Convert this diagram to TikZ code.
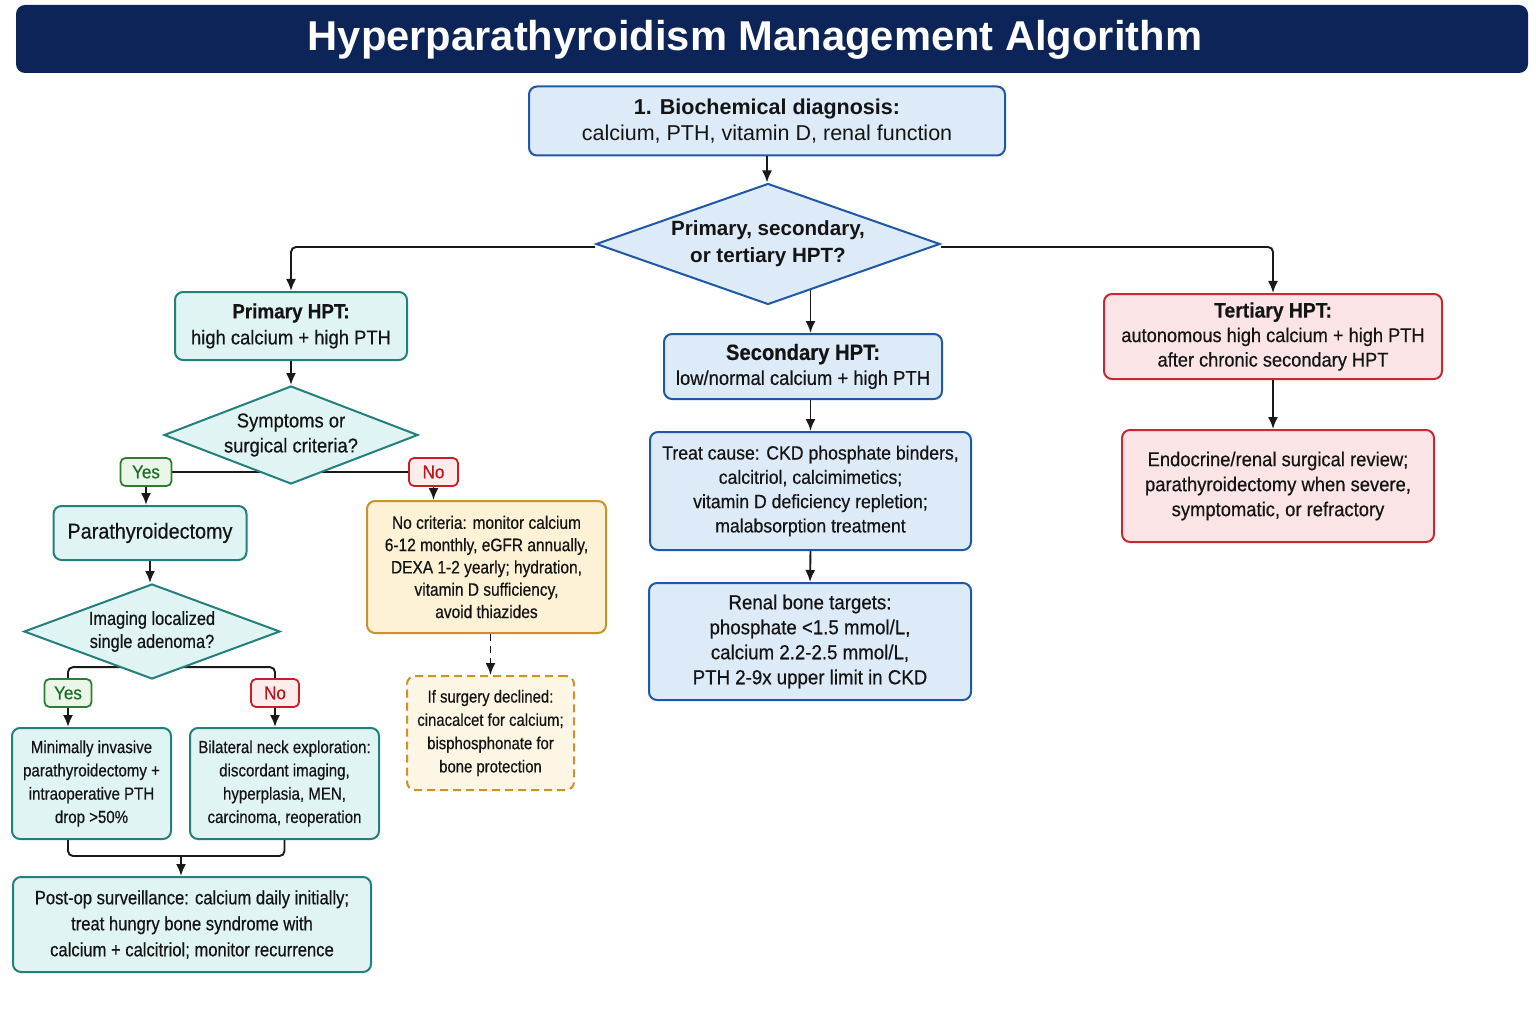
\documentclass[tikz,border=0pt]{standalone}
\usepackage{fontspec}
\setmainfont{Liberation Sans}
\newfontfamily\fn{Liberation Sans}[FakeStretch=0.92,FakeBold=0.5]
\newfontfamily\fc{Liberation Sans}[FakeStretch=0.86,FakeBold=0.5]
\usetikzlibrary{shapes.geometric,arrows.meta,calc,backgrounds}
\newcommand\setfs[2]{\fontsize{#1}{#2}\selectfont}
\definecolor{navy}{RGB}{12,36,87}
\definecolor{bluD}{RGB}{31,88,166}
\definecolor{bluF}{RGB}{221,235,248}
\definecolor{tealD}{RGB}{36,128,122}
\definecolor{tealF}{RGB}{224,244,244}
\definecolor{redD}{RGB}{200,40,50}
\definecolor{redF}{RGB}{251,228,230}
\definecolor{oraD}{RGB}{201,146,43}
\definecolor{oraF}{RGB}{253,242,214}
\definecolor{oraF2}{RGB}{254,246,228}
\definecolor{yesD}{RGB}{46,125,50}
\definecolor{yesF}{RGB}{234,246,232}
\definecolor{yesT}{RGB}{30,110,40}
\definecolor{noD}{RGB}{200,30,40}
\definecolor{noF}{RGB}{253,236,236}
\definecolor{noT}{RGB}{190,20,30}
\definecolor{arr}{RGB}{25,25,25}
\definecolor{ink}{RGB}{20,20,20}
\begin{document}
\begin{tikzpicture}[x=1pt,y=-1pt,
 box/.style={draw, rounded corners=8pt, line width=2pt, align=center, inner sep=0pt, text=ink},
 bb/.style={box, draw=bluD, fill=bluF},
 tb/.style={box, draw=tealD, fill=tealF},
 rb/.style={box, draw=redD, fill=redF},
 ob/.style={box, draw=oraD, fill=oraF},
 diam/.style={diamond, draw, line width=2pt, align=center, inner sep=0pt, text=ink},
 conn/.style={draw=arr, line width=1.9pt, -{Latex[length=12pt,width=10pt]}},
 plain/.style={draw=arr, line width=1.9pt, rounded corners=5pt},
 yeslab/.style={draw=yesD, fill=yesF, text=yesT, rounded corners=5pt, line width=1.8pt, minimum height=28pt, inner sep=0pt, font={\fn\setfs{18.5}{22}}},
 nolab/.style={draw=noD, fill=noF, text=noT, rounded corners=5pt, line width=1.8pt, minimum height=28pt, inner sep=0pt, font={\fn\setfs{18.5}{22}}}
]
\useasboundingbox (0,0) rectangle (1536,1024);
\begin{scope}[on background layer]
\fill[white] (0,0) rectangle (1536,1024);
\end{scope}
% title bar
\fill[navy, rounded corners=9pt] (16,5) rectangle (1528,73);
\node[text=white, font={\bfseries\setfs{41.7}{48}}] (title) at (755,40) {Hyperparathyroidism Management Algorithm};

% top
\node[bb, minimum width=476pt, minimum height=69pt, font={\setfs{21.5}{26}}] (b1) at (767,121) {{\bfseries 1. Biochemical diagnosis:}\\calcium, PTH, vitamin D, renal function};
\node[diam, draw=bluD, fill=bluF, aspect=2.84, minimum width=344pt, minimum height=121pt, font={\bfseries\setfs{20.6}{27}}] (d1) at (768,244) {Primary, secondary,\\or tertiary HPT?};

% three branches
\node[tb, minimum width=232pt, minimum height=68pt, font={\fn\setfs{20}{26}}] (prim) at (291,326) {{\bfseries\setfs{20.5}{26}Primary HPT:}\\high calcium + high PTH};
\node[bb, minimum width=278pt, minimum height=65pt, font={\fn\setfs{20}{25}}] (sec) at (803,366.5) {{\bfseries\setfs{22}{25}Secondary HPT:}\\low/normal calcium + high PTH};
\node[rb, minimum width=338pt, minimum height=85pt, font={\fn\setfs{19.8}{24.5}}] (ter) at (1273,336.5) {{\bfseries\setfs{21}{24.5}Tertiary HPT:}\\autonomous high calcium + high PTH\\after chronic secondary HPT};

% primary branch
\node[diam, draw=tealD, fill=tealF, aspect=2.59, minimum width=254pt, minimum height=98pt, font={\fn\setfs{20}{25}}] (d2) at (291,435) {Symptoms or\\surgical criteria?};
\node[yeslab, minimum width=51pt] (yes1) at (146,472) {Yes};
\node[nolab, minimum width=49pt] (no1) at (433.5,472) {No};
\node[tb, minimum width=193pt, minimum height=54pt, font={\fn\setfs{21.5}{26}}] (ptx) at (150,533) {Parathyroidectomy};
\node[diam, draw=tealD, fill=tealF, aspect=2.69, minimum width=256pt, minimum height=95pt, font={\fc\setfs{19}{23}}] (d3) at (152,631.5) {Imaging localized\\single adenoma?};
\node[yeslab, minimum width=47pt] (yes2) at (68,693) {Yes};
\node[nolab, minimum width=48pt] (no2) at (275,693) {No};
\node[tb, minimum width=159pt, minimum height=111pt, font={\fc\setfs{17.5}{23.3}}] (mini) at (91.5,783.5) {Minimally invasive\\parathyroidectomy +\\intraoperative PTH\\drop >50\%};
\node[tb, minimum width=189pt, minimum height=111pt, font={\fc\setfs{17.5}{23.3}}] (bil) at (284.5,783.5) {Bilateral neck exploration:\\discordant imaging,\\hyperplasia, MEN,\\carcinoma, reoperation};
\node[tb, minimum width=358pt, minimum height=95pt, font={\fc\setfs{19.3}{26}}] (post) at (192,924.5) {Post-op surveillance: calcium daily initially;\\treat hungry bone syndrome with\\calcium + calcitriol; monitor recurrence};
\node[ob, minimum width=239pt, minimum height=132pt, font={\fc\setfs{18}{22.3}}] (nocrit) at (486.5,567) {No criteria: monitor calcium\\6-12 monthly, eGFR annually,\\DEXA 1-2 yearly; hydration,\\vitamin D sufficiency,\\avoid thiazides};
\node[ob, fill=oraF2, dash pattern=on 8pt off 5pt, minimum width=167pt, minimum height=114pt, font={\fc\setfs{17.3}{23.3}}] (surg) at (490.5,733) {If surgery declined:\\cinacalcet for calcium;\\bisphosphonate for\\bone protection};

% secondary branch
\node[bb, minimum width=321pt, minimum height=118pt, font={\fn\setfs{19.2}{24.3}}] (treat) at (810.5,491) {Treat cause: CKD phosphate binders,\\calcitriol, calcimimetics;\\vitamin D deficiency repletion;\\malabsorption treatment};
\node[bb, minimum width=322pt, minimum height=117pt, font={\fn\setfs{20.3}{25}}] (renal) at (810,641.5) {Renal bone targets:\\phosphate <1.5 mmol/L,\\calcium 2.2-2.5 mmol/L,\\PTH 2-9x upper limit in CKD};

% tertiary branch
\node[rb, minimum width=312pt, minimum height=112pt, font={\fn\setfs{20}{25}}] (endo) at (1278,486) {Endocrine/renal surgical review;\\parathyroidectomy when severe,\\symptomatic, or refractory};

% connectors behind shapes
\begin{scope}[on background layer]
\draw[conn, rounded corners=5pt] ($(d1.west)+(0,3)$) -| (prim.north);
\draw[conn, rounded corners=5pt] ($(d1.east)+(0,3)$) -| (ter.north);
\draw[conn] (d1.center -| treat.north) -- (treat.north |- sec.north);
\draw[plain] (yes1.east) -- (no1.west);
\draw[plain] (yes2.north) -- ++(0,-11) -| (no2.north);
\end{scope}

% connectors
\draw[conn] (b1.south) -- (b1.south |- d1.north);
\draw[conn] (prim.south) -- (d2.north);
\draw[conn] (yes1.south) -- (yes1.south |- ptx.north);
\draw[conn] (no1.south) -- (no1.south |- nocrit.north);
\draw[conn] (ptx.south) -- (ptx.south |- d3.north);
\draw[conn] (yes2.south) -- (yes2.south |- mini.north);
\draw[conn] (no2.south) -- (no2.south |- bil.north);
\coordinate (m) at (181,856);
\draw[plain] (mini.south -| yes2.south) |- (m) -| (bil.south);
\draw[conn] (m) -- (m |- post.north);
\draw[conn, dash pattern=on 7pt off 5pt] (surg.north |- nocrit.south) -- (surg.north);
\draw[conn] (treat.north |- sec.south) -- (treat.north);
\draw[conn] (treat.south) -- (renal.north);
\draw[conn] (ter.south) -- (ter.south |- endo.north);
\end{tikzpicture}
\end{document}
